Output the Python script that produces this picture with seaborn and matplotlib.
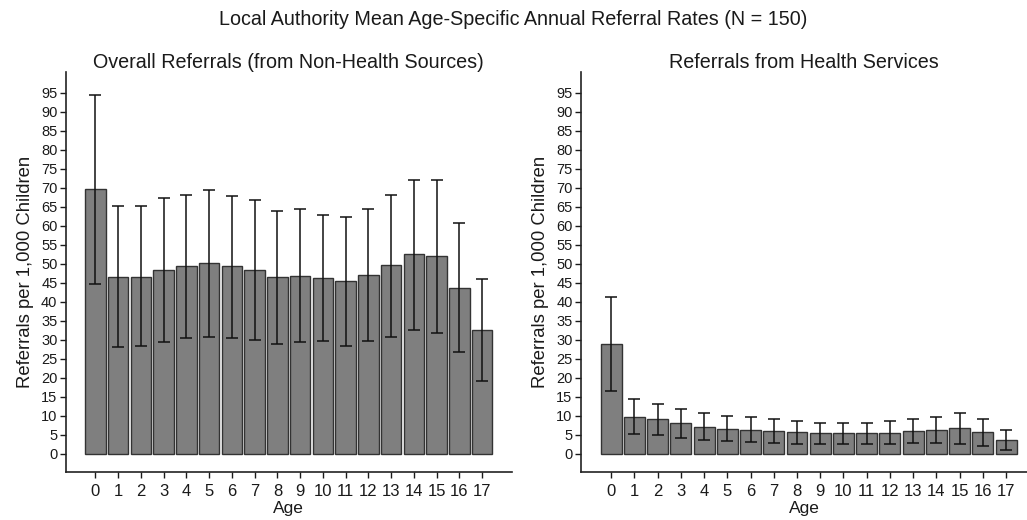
import matplotlib

matplotlib.use("Agg")
import matplotlib.pyplot as plt
import numpy as np
import pandas as pd
import seaborn as sns

ages = list(range(18))

# Overall referrals (non-health sources): mean, lower and upper error limits
overall_mean = [69.6, 46.5, 46.5, 48.4, 49.3, 50.2, 49.3, 48.4, 46.5, 46.8,
                46.2, 45.4, 47.1, 49.6, 52.5, 51.9, 43.6, 32.6]
overall_low = [44.7, 28.1, 28.4, 29.3, 30.5, 30.8, 30.5, 29.9, 29.0, 29.3,
               29.6, 28.4, 29.6, 30.8, 32.5, 31.7, 26.8, 19.1]
overall_high = [94.5, 65.3, 65.1, 67.4, 68.2, 69.3, 67.9, 66.7, 64.0, 64.4,
                62.9, 62.4, 64.4, 68.2, 72.0, 72.0, 60.6, 45.9]

# Referrals from health services
health_mean = [28.9, 9.7, 9.1, 8.0, 7.1, 6.6, 6.2, 6.0, 5.7, 5.4,
               5.4, 5.4, 5.4, 6.0, 6.2, 6.8, 5.7, 3.7]
health_low = [16.6, 5.2, 4.9, 4.2, 3.7, 3.4, 3.1, 2.9, 2.6, 2.6,
              2.6, 2.6, 2.6, 2.9, 2.9, 2.6, 2.0, 1.1]
health_high = [41.3, 14.3, 13.1, 11.9, 10.8, 9.9, 9.6, 9.1, 8.5, 8.1,
               8.0, 8.0, 8.5, 9.1, 9.7, 10.8, 9.1, 6.2]

sns.set_theme(style="ticks", rc={"text.color": "#1a1a1a",
                                 "axes.labelcolor": "#1a1a1a",
                                 "xtick.color": "#1a1a1a",
                                 "ytick.color": "#1a1a1a"})
plt.rcParams["font.family"] = ["Liberation Sans", "DejaVu Sans"]


def _panel(ax, mean, low, high, title, xmax):
    df = pd.DataFrame({"Age": ages, "rate": mean})
    sns.barplot(data=df, x="Age", y="rate", color="#7f7f7f", saturation=1,
                edgecolor="#333333", linewidth=1.0, width=0.9,
                errorbar=None, ax=ax)
    mean = np.array(mean)
    yerr = [mean - np.array(low), np.array(high) - mean]
    ax.errorbar(np.arange(len(ages)), mean, yerr=yerr, fmt="none",
                ecolor="#111111", elinewidth=1.1, capsize=4.5, capthick=1.1)
    ax.set_ylim(-4.7, 100.5)
    ax.set_xlim(-1.3, xmax)
    ax.set_yticks(range(0, 100, 5))
    ax.set_title(title, fontsize=14.2, pad=3)
    ax.set_xlabel("Age", fontsize=12.5, labelpad=1)
    ax.set_ylabel("Referrals per 1,000 Children", fontsize=13.3, labelpad=5)
    ax.tick_params(axis="y", labelsize=10.5, length=4, width=1, pad=2)
    ax.tick_params(axis="x", labelsize=12, length=4, width=1, pad=5)
    sns.despine(ax=ax)
    for s in ("left", "bottom"):
        ax.spines[s].set_color("#222222")
        ax.spines[s].set_linewidth(1.2)


fig, (ax1, ax2) = plt.subplots(1, 2, figsize=(10.27, 5.2), dpi=100)
_panel(ax1, overall_mean, overall_low, overall_high,
       "Overall Referrals (from Non-Health Sources)", 18.3)
_panel(ax2, health_mean, health_low, health_high,
       "Referrals from Health Services", 17.9)

fig.suptitle("Local Authority Mean Age-Specific Annual Referral Rates (N = 150)",
             fontsize=14.2, y=0.98)
fig.subplots_adjust(left=0.064, right=1.0, bottom=0.093, top=0.862, wspace=0.155)
fig.savefig("out.png", dpi=100)
plt.close(fig)
